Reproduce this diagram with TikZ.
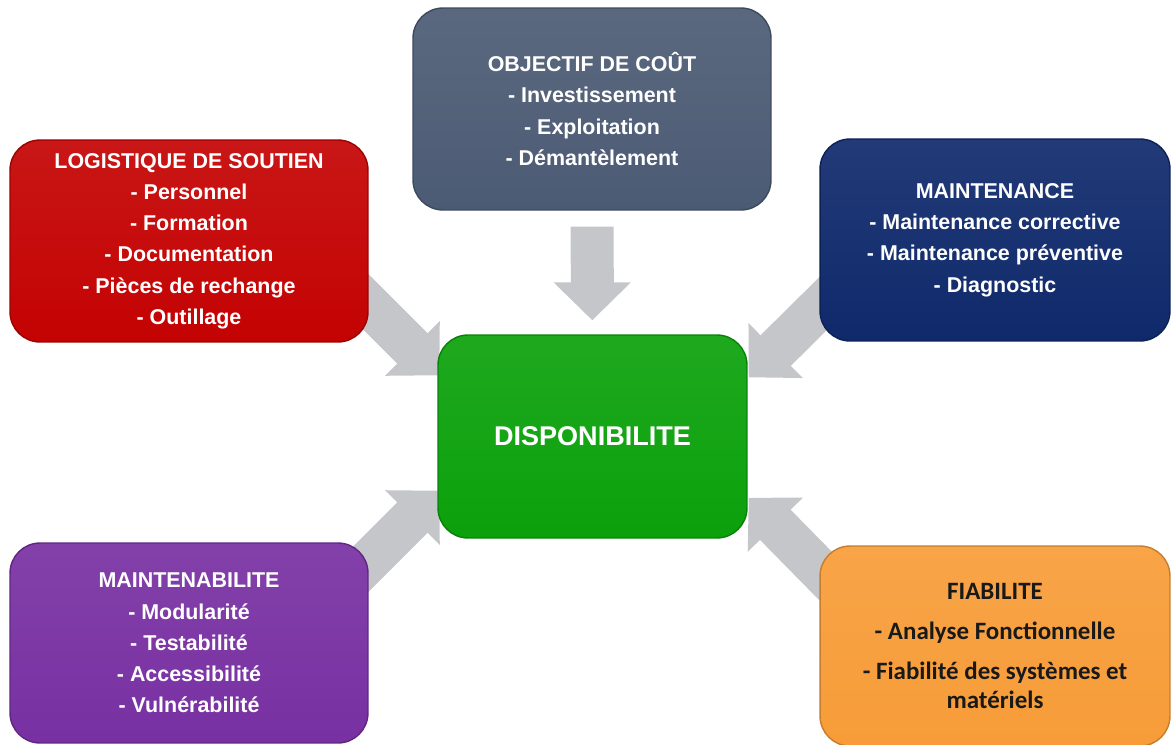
\documentclass[tikz,border=0pt]{standalone}
\usepackage{fontspec}
\setmainfont{Liberation Sans}
\newfontfamily\calibri{Carlito}
\usetikzlibrary{arrows.meta,calc,backgrounds}

\definecolor{dispo}{HTML}{0BA10B}
\definecolor{cout}{HTML}{4C5B74}
\definecolor{logis}{HTML}{C40202}
\definecolor{maint}{HTML}{0F296B}
\definecolor{mtbl}{HTML}{7830A2}
\definecolor{fiab}{HTML}{F79C38}
\definecolor{arrgray}{HTML}{C4C6CA}

\begin{document}
\begin{tikzpicture}[x=0.02cm, y=-0.02cm,
box/.style = {draw=#1!80!black, line width=0.8pt, rounded corners=0.6cm, top color=#1!92!white, bottom color=#1,
  minimum width=7.16cm, minimum height=4.04cm, align=center, text=white, font=\bfseries\fontsize{12.2}{17.8}\selectfont},
arr/.style = {line width=0.86cm, draw=arrgray, -{Triangle[width=1.5cm,length=0.76cm]}}]
\useasboundingbox (0,0) rectangle (1172,744);

\node[box=dispo, minimum width=6.18cm, minimum height=4.06cm, font=\bfseries\fontsize{15.4}{18}\selectfont] (0) at (592.5,436.5) {DISPONIBILITE};
\node[box=cout] (1) at (592,109) {OBJECTIF DE COÛT\\- Investissement\\- Exploitation\\- Démantèlement};
\node[box=logis] (2) at (189,241) {LOGISTIQUE DE SOUTIEN\\- Personnel\\- Formation\\- Documentation\\- Pièces de rechange\\- Outillage};
\node[box=maint, minimum width=7cm] (3) at (995,240) {MAINTENANCE\\- Maintenance corrective\\- Maintenance préventive\\- Diagnostic};
\node[box=mtbl, minimum height=4cm] (4) at (189,643) {MAINTENABILITE\\- Modularité\\- Testabilité\\- Accessibilité\\- Vulnérabilité};
\node[box=fiab, minimum width=7cm, minimum height=4cm, text=black!90, font=\calibri\bfseries\fontsize{14.2}{16.5}\selectfont] (5) at (995,646)
  {FIABILITE\\[6pt]- Analyse Fonctionnelle\\[6pt]- Fiabilité des systèmes et\\matériels};

\draw[arr, shorten <=0.32cm, shorten >=0.28cm] (1) -- (0);
\begin{scope}[on background layer]
  \draw[arr] ($(2.south east)+(-38,-76)$) -- ($(0.north west)+(2,41)$);
  \draw[arr] ($(3.south west)+(38,-72)$) -- ($(0.north east)+(1,43)$);
  \draw[arr] ($(4.north east)+(-38,57)$) -- ($(0.south west)+(2,-48)$);
  \draw[arr] ($(5.north west)+(38,63)$) -- ($(0.south east)+(1,-41)$);
\end{scope}

\end{tikzpicture}
\end{document}
